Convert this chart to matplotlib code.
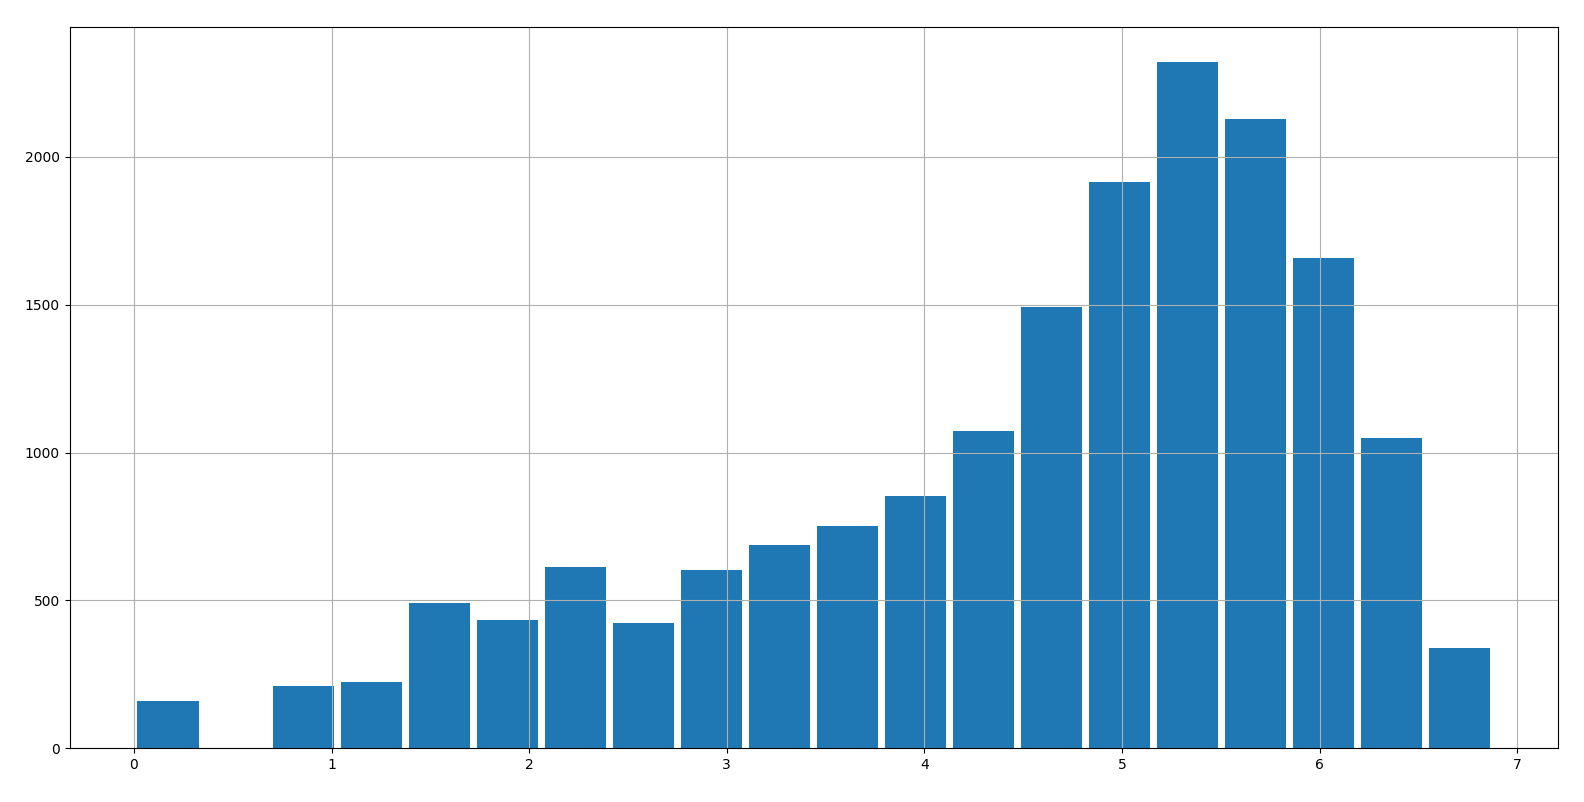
import numpy as np
import matplotlib
matplotlib.use('Agg')
import matplotlib.pyplot as plt

# histogram range and counts
x_min = 0.0
x_max = 6.88
n_bins = 20
counts = [160, 0, 212, 225, 491, 433, 614, 423, 604, 686,
          751, 853, 1072, 1491, 1915, 2321, 2126, 1659, 1048, 338]

edges = np.linspace(x_min, x_max, n_bins + 1)
centers = (edges[:-1] + edges[1:]) / 2

fig, ax = plt.subplots(figsize=(15.84, 8.02), dpi=100)
fig.subplots_adjust(left=0.044, right=0.9834, top=0.966, bottom=0.0668)

ax.hist(centers, bins=edges, weights=counts, rwidth=0.9, color='#1f77b4')
ax.grid(True)

fig.savefig('out.png')
